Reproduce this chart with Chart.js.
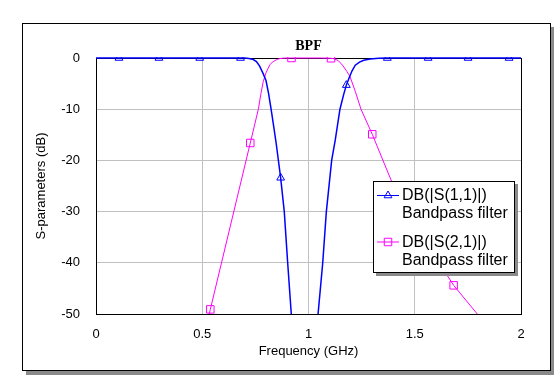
<!DOCTYPE html>
<html>
<head>
<meta charset="utf-8">
<script src="https://cdn.jsdelivr.net/npm/chart.js@4.4.1/dist/chart.umd.min.js"></script>
<style>
    html, body { margin: 0; padding: 0; background: #fff; }
    #frame {
        position: absolute; left: 22px; top: 23px;
        width: 527px; height: 346px;
        border: 1px solid #000;
        box-shadow: 4px 4px 0 #8a8a8a;
        background: #fff;
    }
    #wrap { position: absolute; left: 0; top: 0; width: 554px; height: 376px; }
</style>
</head>
<body>
<div id="frame"></div>
<div id="wrap"><canvas id="bpfChart" width="554" height="376"></canvas></div>
<script>
// axis ticks
const xTicks = [0, 0.5, 1, 1.5, 2];
const xTickLabels = ['0', '0.5', '1', '1.5', '2'];
const yTicks = [0, -10, -20, -30, -40, -50];
const yTickLabels = ['0', '-10', '-20', '-30', '-40', '-50'];

// DB(|S(1,1)|)
const s11Freq = [0, 0.108, 0.296, 0.488, 0.68, 0.70, 0.72, 0.74, 0.755, 0.77, 0.785, 0.80, 0.812, 0.824, 0.836, 0.848,
    0.869, 0.886, 0.902, 0.919, 0.93, 0.98, 1.035, 1.045, 1.067, 1.084, 1.109, 1.126, 1.148, 1.165, 1.178, 1.19,
    1.205, 1.22, 1.24, 1.26, 1.29, 1.33, 1.371, 1.563, 1.751, 1.944, 2.0];
const s11Db = [0, 0, 0, 0, 0, -0.02, -0.1, -0.3, -0.7, -1.6, -2.9, -4.4, -6.9, -10, -13.3, -16.7,
    -23.4, -30, -40, -50, -58, -68, -60, -50, -40, -30, -20, -16, -10, -7.2, -5.3, -4.0,
    -2.5, -1.4, -0.8, -0.45, -0.2, -0.05, 0, 0, 0, 0, 0];
const s11Markers = [0.108, 0.296, 0.488, 0.68, 0.869, 1.178, 1.371, 1.563, 1.751, 1.944];

// DB(|S(2,1)|)
const s21Freq = [0, 0.2, 0.35, 0.538, 0.726, 0.745, 0.764, 0.776, 0.787, 0.80, 0.81, 0.819, 0.83, 0.842, 0.855,
    0.866, 0.88, 0.92, 1.0, 1.06, 1.106, 1.12, 1.14, 1.16, 1.18, 1.195, 1.22, 1.247, 1.30, 1.40, 1.49, 1.683, 1.87, 2.0];
const s21Db = [-140, -105, -82, -49.1, -16.6, -13.3, -10, -7, -4.6, -2.9, -2.0, -1.3, -0.8, -0.5, -0.25,
    -0.1, -0.03, 0, 0, 0, -0.05, -0.15, -0.5, -1.4, -2.6, -3.6, -6.5, -10, -14.9, -25, -32, -44.4, -53.8, -60];
const s21Markers = [0.538, 0.726, 0.92, 1.106, 1.30, 1.49, 1.683];

const legendLines = [
    ['DB(|S(1,1)|)', 'Bandpass filter'],
    ['DB(|S(2,1)|)', 'Bandpass filter']
];

const sansFont = "'Liberation Sans', Arial, sans-serif";

function toPoints(freq, db) {
    return freq.map((f, i) => ({ x: f, y: db[i] }));
}

function markerRadius(markers, r) {
    return (ctx) => {
        const p = ctx.raw;
        return p && markers.includes(p.x) ? r : 0;
    };
}

const boxLegend = {
    id: 'boxLegend',
    afterDatasetsDraw(chart) {
        const ctx = chart.ctx;
        const x = 373, y = 181, w = 142, h = 92;
        ctx.save();
        ctx.fillStyle = '#8a8a8a';
        ctx.fillRect(x + 3, y + 3, w, h);
        ctx.fillStyle = '#fff';
        ctx.fillRect(x, y, w, h);
        ctx.strokeStyle = '#000';
        ctx.lineWidth = 1;
        ctx.strokeRect(x + 0.5, y + 0.5, w - 1, h - 1);

        chart.data.datasets.forEach((ds, i) => {
            const ly = y + 14 + i * 46.5;
            ctx.strokeStyle = ds.borderColor;
            ctx.lineWidth = 1;
            ctx.beginPath();
            ctx.moveTo(x + 4, ly + 0.5);
            ctx.lineTo(x + 26, ly + 0.5);
            ctx.stroke();
            ctx.fillStyle = 'rgba(0,0,0,0)';
            Chart.helpers.drawPoint(ctx, {
                pointStyle: ds.pointStyle,
                radius: ds.legendRadius,
                borderWidth: 1,
                rotation: 0
            }, x + 15, ly + 0.5);

            ctx.fillStyle = '#000';
            ctx.font = '16px ' + sansFont;
            ctx.textAlign = 'left';
            ctx.textBaseline = 'alphabetic';
            ctx.fillText(legendLines[i][0], x + 29, ly + 5);
            ctx.fillText(legendLines[i][1], x + 29, ly + 23);
        });
        ctx.restore();
    }
};

const edgeColor = (edges) => (ctx) => (ctx.tick && edges.includes(ctx.tick.value)) ? '#000' : '#c0c0c0';

const chart = new Chart(document.getElementById('bpfChart').getContext('2d'), {
    type: 'line',
    data: {
        datasets: [{
            label: legendLines[0][0],
            data: toPoints(s11Freq, s11Db),
            borderColor: '#0000ff',
            borderWidth: 1.5,
            pointStyle: 'triangle',
            legendRadius: 4.5,
            pointRadius: markerRadius(s11Markers, 4.5),
            pointBorderColor: '#0000ff',
            pointBackgroundColor: 'rgba(0,0,0,0)',
            pointBorderWidth: 1,
            tension: 0,
            clip: { left: 0, top: 1, right: 0, bottom: 0 }
        }, {
            label: legendLines[1][0],
            data: toPoints(s21Freq, s21Db),
            borderColor: '#ff00ff',
            borderWidth: 1,
            pointStyle: 'rect',
            legendRadius: 5.3,
            pointRadius: markerRadius(s21Markers, 5.3),
            pointBorderColor: '#ff00ff',
            pointBackgroundColor: 'rgba(0,0,0,0)',
            pointBorderWidth: 1,
            tension: 0,
            clip: { left: 0, top: 1, right: 0, bottom: 0 }
        }]
    },
    options: {
        responsive: false,
        animation: false,
        events: [],
        layout: { padding: { top: 38.2, right: 33, bottom: 0, left: 0 } },
        scales: {
            x: {
                type: 'linear',
                min: 0,
                max: 2,
                afterFit: (s) => { s.height = 62; },
                afterBuildTicks: (s) => { s.ticks = xTicks.map(v => ({ value: v })); },
                grid: { color: edgeColor([0, 2]), drawTicks: false, lineWidth: 1 },
                border: { color: '#000', width: 1 },
                ticks: {
                    color: '#000',
                    font: { family: sansFont, size: 13 },
                    padding: 13,
                    maxRotation: 0,
                    callback: (v, i) => xTickLabels[i]
                },
                title: {
                    display: true,
                    text: 'Frequency (GHz)',
                    color: '#000',
                    font: { family: sansFont, size: 13 },
                    padding: { top: 0, bottom: 16.7 }
                }
            },
            y: {
                type: 'linear',
                min: -50,
                max: 0,
                afterFit: (s) => { s.width = 96; },
                afterBuildTicks: (s) => { s.ticks = yTicks.map(v => ({ value: v })); },
                grid: { color: edgeColor([0, -50]), drawTicks: false, lineWidth: 1 },
                border: { color: '#000', width: 1 },
                ticks: {
                    color: '#000',
                    font: { family: sansFont, size: 13 },
                    padding: 16,
                    callback: (v, i) => yTickLabels[i]
                },
                title: {
                    display: true,
                    text: 'S-parameters (dB)',
                    color: '#000',
                    font: { family: sansFont, size: 13 },
                    padding: { top: 33.2, bottom: 0 }
                }
            }
        },
        plugins: {
            legend: { display: false },
            tooltip: { enabled: false },
            title: {
                display: true,
                text: 'BPF',
                fullSize: false,
                color: '#000',
                font: { family: "'Liberation Serif', 'Times New Roman', serif", size: 14, weight: 'bold' },
                padding: { top: 0, bottom: 3 }
            }
        }
    },
    plugins: [boxLegend]
});
</script>
</body>
</html>
